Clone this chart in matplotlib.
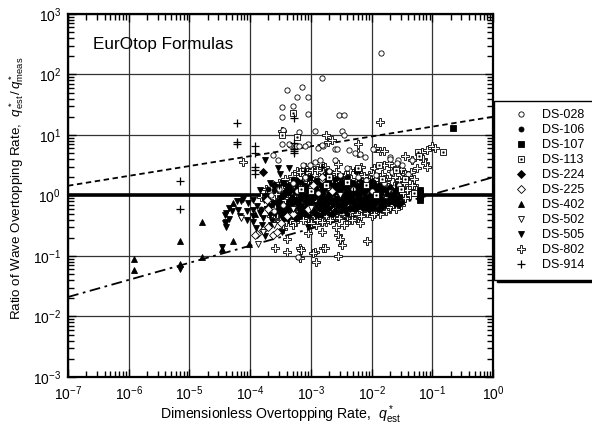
import matplotlib
matplotlib.use("Agg")
import matplotlib.pyplot as plt
from matplotlib.legend_handler import HandlerTuple
import numpy as np

plt.rcParams['font.family'] = ['Liberation Sans', 'DejaVu Sans']
plt.rcParams['mathtext.fontset'] = 'custom'
plt.rcParams['mathtext.rm'] = 'Liberation Sans'
plt.rcParams['mathtext.it'] = 'Liberation Sans:italic'

# ---- data (q*_est, q*_est / q*_meas) ----
ds028_q = [1.45e-2, 1.55e-3, 4.1e-4, 7.1e-4, 5.9e-4, 9.1e-4, 5.1e-4, 3.3e-4, 9.1e-4, 2.9e-3,
           3.5e-3, 3.3e-4, 3.5e-4, 6.3e-4, 1.17e-3, 3.2e-3, 3.5e-3, 3.3e-4, 4.5e-4, 9.1e-4,
           1.3e-3, 2.4e-4, 2.9e-4, 4.4e-4, 5.6e-4, 6.3e-4, 8.1e-4, 1.6e-3, 2.5e-3, 2.7e-3,
           4.2e-3, 2.5e-3, 7.8e-3, 1.07e-2, 2.0e-2, 2.75e-2, 3.2e-2, 1.5e-3, 5.4e-3, 6.5e-3,
           2.0e-2, 2.6e-2, 4.7e-2, 7.4e-4, 9.5e-4, 1.17e-3, 1.4e-3, 2e-3, 3e-3, 4e-3,
           6e-3, 8e-3, 1.2e-2, 1.6e-2, 2.2e-2, 1.5e-3, 8e-4, 5e-4, 3e-4, 2.5e-4,
           3.5e-4, 6e-4, 1e-3, 1.3e-3, 5e-3, 1e-2, 2.8e-2, 4e-2, 2.2e-4, 6.2e-4]
ds028_r = [230, 87, 56, 62, 42, 42, 30, 29, 22, 21,
           21, 20, 12, 11.2, 11.7, 11.7, 10, 7.2, 6.9, 7.2,
           6.0, 4.6, 3.9, 7.0, 6.6, 6.6, 6.5, 6.5, 5.8, 5.8,
           5.6, 3.9, 4.4, 5.8, 4.4, 3.9, 3.2, 6.8, 5.0, 4.9,
           4.0, 3.5, 3.8, 3.2, 3.2, 3.6, 3.9, 2.5, 2.2, 2.8,
           2.0, 1.8, 2.2, 1.6, 2.4, 1.8, 2.0, 1.6, 1.3, 0.55,
           0.7, 1.2, 1.4, 1.1, 1.3, 1.2, 1.5, 2.3, 1.0, 0.096]

ds106_q = [3e-4, 4e-4, 5e-4, 6e-4, 7e-4, 8e-4, 9e-4, 1e-3, 1.2e-3, 1.4e-3,
           1.6e-3, 1.8e-3, 2e-3, 2.3e-3, 2.6e-3, 3e-3, 3.4e-3, 3.8e-3, 4.3e-3, 4.8e-3,
           5.4e-3, 6e-3, 6.8e-3, 7.5e-3, 8.5e-3, 9.5e-3, 1.1e-2, 1.25e-2, 1.4e-2, 1.6e-2,
           1.8e-2, 2e-2, 2.3e-2, 2.6e-2, 2.9e-2, 3.2e-2, 2.2e-4, 1.8e-4, 2.5e-4, 1.4e-3,
           2.7e-4, 3.2e-4, 3.6e-4, 4.1e-4, 4.6e-4, 5.2e-4, 5.8e-4, 6.4e-4, 7.1e-4, 7.8e-4,
           8.5e-4, 9.3e-4, 1.03e-3, 1.12e-3, 1.23e-3, 1.34e-3, 1.46e-3, 1.58e-3, 1.72e-3, 1.87e-3,
           2.03e-3, 2.2e-3, 2.4e-3, 2.6e-3, 2.83e-3, 3.08e-3, 3.35e-3, 3.64e-3, 3.96e-3, 4.3e-3,
           4.7e-3, 5.1e-3, 5.6e-3, 6.1e-3, 6.6e-3, 7.2e-3, 7.8e-3, 8.5e-3, 9.3e-3, 1.01e-2,
           1.1e-2, 1.2e-2, 1.31e-2, 1.43e-2, 1.56e-2, 1.7e-2, 1.85e-2, 2.02e-2, 2.2e-2, 2.4e-2,
           3.5e-4, 5e-4, 7e-4, 9.5e-4, 1.25e-3, 1.6e-3, 2e-3, 2.5e-3, 3.2e-3, 4e-3,
           5e-3, 6.3e-3, 8e-3, 1e-2, 1.3e-2, 1.6e-2, 2e-2, 2.6e-2, 1.5e-4, 2e-4]
ds106_r = [0.8, 1.1, 0.6, 1.4, 0.9, 0.5, 1.2, 0.75, 1.0, 0.6,
           1.3, 0.8, 1.1, 0.5, 0.9, 1.25, 0.65, 1.0, 0.8, 1.3,
           0.7, 1.0, 0.85, 1.2, 0.7, 1.0, 0.85, 1.15, 0.95, 0.8,
           1.05, 0.9, 1.1, 0.85, 0.95, 0.78, 0.7, 1.0, 1.25, 1.6,
           0.55, 0.95, 0.42, 0.7, 1.3, 0.85, 0.48, 1.05, 0.62, 1.5,
           0.78, 0.45, 1.0, 0.58, 1.35, 0.82, 0.47, 1.1, 0.66, 0.95,
           0.5, 1.2, 0.72, 1.45, 0.88, 0.55, 1.05, 0.78, 0.5, 1.25,
           0.9, 0.6, 1.15, 0.78, 1.4, 0.62, 0.95, 1.3, 0.74, 1.05,
           0.62, 1.3, 0.82, 1.1, 0.68, 1.25, 0.75, 1.0, 0.82, 0.95,
           1.6, 1.9, 1.7, 2.0, 1.8, 2.1, 1.65, 1.9, 1.7, 2.0,
           1.6, 1.85, 1.6, 1.75, 1.5, 1.65, 1.4, 1.5, 0.6, 1.3]

ds107_q = [0.22, 6.2e-2, 6.2e-2, 6.2e-2, 6.2e-2, 1.95e-3, 5.8e-3, 1.5e-3, 3e-3, 2.5e-2,
           1e-2, 4e-3, 6e-4]
ds107_r = [13, 1.25, 1.1, 0.95, 0.85, 2.4, 2.6, 1.8, 2.1, 1.2,
           1.6, 1.0, 0.8]

ds113_q = [5.1e-4, 6e-4, 3.3e-4, 5.9e-2, 6e-2, 0.148, 1.3e-2, 2e-3, 4e-3, 8e-3,
           1.5e-2, 3e-2, 5e-2, 1e-3, 6e-3, 2.5e-2, 1.8e-3, 1.2e-2, 3.5e-2, 7e-4]
ds113_r = [23, 9.3, 10, 5.2, 4.5, 5.2, 3.2, 2.0, 1.7, 1.5,
           1.9, 1.3, 1.1, 1.2, 2.8, 2.6, 1.5, 1.0, 1.9, 1.3]

ds224_q = [1.6e-4, 2.5e-4, 3e-4, 3.5e-4, 4.5e-4, 5.5e-4, 6.5e-4, 7.5e-4, 9e-4, 1.1e-3,
           1.3e-3, 1.5e-3, 1.7e-3, 2e-3, 2.4e-3, 2.8e-3, 3.2e-3, 3.7e-3, 4.2e-3, 5e-3,
           5.8e-3, 6.5e-3, 7.5e-3, 9e-3, 1.05e-2, 1.2e-2, 1.5e-2, 1.9e-2, 2.4e-2, 2.8e-2,
           1.3e-2, 2.9e-4, 3.4e-4, 3.9e-4, 4.4e-4, 4.9e-4, 5.6e-4, 6.2e-4, 6.9e-4, 7.6e-4,
           8.3e-4, 9.1e-4, 1.0e-3, 1.1e-3, 1.2e-3, 1.32e-3, 1.45e-3, 1.6e-3, 1.75e-3, 1.92e-3,
           2.1e-3, 2.3e-3, 2.52e-3, 2.76e-3, 3.0e-3, 3.3e-3, 3.6e-3, 3.95e-3, 4.35e-3, 4.75e-3,
           5.2e-3, 5.7e-3, 6.3e-3, 6.9e-3, 7.6e-3, 8.4e-3, 9.2e-3, 1.0e-2, 1.12e-2, 1.25e-2,
           1.4e-2, 4.2e-4, 6e-4, 8e-4, 1.15e-3, 1.5e-3, 1.9e-3, 2.4e-3, 3e-3, 3.8e-3,
           4.6e-3, 5.8e-3, 7e-3, 9e-3, 1.15e-2, 1.5e-2]
ds224_r = [2.45, 1.5, 0.6, 1.0, 0.8, 1.2, 0.7, 1.05, 0.85, 1.3,
           0.7, 0.95, 0.55, 0.8, 1.15, 0.7, 0.95, 0.6, 1.1, 0.85,
           0.65, 1.1, 0.75, 0.95, 0.7, 0.9, 0.7, 0.8, 0.75, 0.72,
           0.6, 0.75, 0.5, 1.2, 0.62, 0.92, 0.42, 0.85, 1.25, 0.55,
           0.95, 0.65, 1.5, 0.9, 0.5, 1.1, 0.75, 1.3, 0.85, 0.62,
           1.05, 0.8, 0.56, 1.2, 0.9, 0.7, 1.35, 0.85, 0.62, 1.0,
           0.75, 1.3, 0.92, 0.68, 1.15, 0.85, 0.6, 0.98, 0.78, 1.2,
           0.88, 1.45, 1.75, 1.4, 1.6, 1.45, 1.9, 1.5, 1.55, 1.45,
           1.6, 1.45, 1.55, 1.35, 1.45, 1.3]

ds225_q = [1.6e-4, 2e-4, 2.4e-4, 2.8e-4, 1.3e-4, 3.2e-4, 4e-4, 5e-4, 1.1e-3, 1.5e-3,
           9e-4, 2.2e-3, 2e-4, 1.9e-4, 1.2e-4]
ds225_r = [0.27, 0.30, 0.22, 0.25, 0.23, 0.35, 0.45, 0.5, 1.5, 2.0,
           0.6, 1.2, 0.6, 0.85, 0.22]

ds402_q = [1.2e-6, 1.2e-6, 7e-6, 7e-6, 1.6e-5, 1.6e-5, 5.2e-5, 5.2e-5, 9.5e-5, 3.5e-5,
           1.2e-4, 2e-4]
ds402_r = [0.09, 0.058, 0.18, 0.075, 0.36, 0.095, 0.18, 0.75, 0.16, 0.13,
           0.5, 0.7]

ds502_q = [1.35e-4, 1.6e-4, 2.5e-4, 5e-4, 1e-3, 3e-3, 7e-5]
ds502_r = [0.16, 0.25, 0.32, 0.6, 0.63, 1.0, 0.42]

ds505_q = [3.8e-5, 4.4e-5, 3.8e-5, 6.3e-5, 6.8e-5, 7.6e-5, 9.3e-5, 1.12e-4, 1.12e-4, 1.12e-4,
           1.26e-4, 1.45e-4, 1.55e-4, 1.74e-4, 2.1e-4, 2.2e-4, 2.4e-4, 2.9e-4, 3.1e-4, 3.3e-4,
           4e-4, 3.5e-4, 4.5e-4, 4.8e-4, 5.8e-4, 6.6e-4, 9.1e-4, 2.1e-4, 1.45e-4, 4e-5,
           4e-5, 4e-5, 7e-6, 3.5e-5, 6e-5, 7e-5, 9e-5, 5e-5, 4.5e-5, 1.74e-4,
           4.3e-4, 1.2e-3, 2e-3, 1.5e-3, 8e-4, 1.3e-4, 1.6e-4, 1.9e-4, 2.3e-4, 2.6e-4,
           2.8e-4, 3.2e-4, 3.6e-4, 4.2e-4, 5e-4, 5.5e-4, 6.2e-4, 7e-4, 1e-3, 1.3e-3,
           1.7e-3, 2.2e-3, 1.1e-4, 9e-5, 1.7e-4]
ds505_r = [0.48, 0.41, 0.35, 0.58, 0.45, 0.89, 0.74, 0.85, 0.58, 0.37,
           0.29, 0.51, 0.32, 0.21, 0.48, 0.32, 0.74, 2.8, 2.3, 0.25,
           0.51, 1.6, 1.1, 0.66, 0.85, 0.45, 0.30, 1.6, 1.23, 0.51,
           0.37, 0.30, 0.06, 0.14, 0.82, 0.8, 0.4, 0.55, 0.62, 3.9,
           2.8, 0.7, 0.9, 0.55, 0.75, 0.68, 0.42, 0.6, 0.38, 0.5,
           0.7, 0.45, 0.58, 0.4, 0.55, 0.8, 0.6, 0.5, 0.55, 0.45,
           0.62, 0.7, 0.46, 0.55, 0.85]

ds802_q = [7.6e-5, 3.3e-4, 1.8e-3, 1.95e-3, 1.35e-2, 2.2e-3, 6e-3, 1.15e-2, 1.4e-2, 1.6e-2,
           3.5e-2, 6.8e-2, 7.1e-2, 9.8e-2, 0.11, 7.6e-2, 8.1e-2, 1.4e-3, 1.02e-3, 1.6e-2,
           2.6e-2, 3e-2, 3.5e-2, 6e-3, 4.6e-2, 8.1e-2,
           2.6e-4, 4e-4, 6.6e-4, 6.6e-4, 1.17e-3, 1.23e-3, 1.6e-3, 7e-4, 1.1e-3, 1.7e-3,
           2.8e-3, 2.8e-3, 3e-3, 3.2e-3, 1.5e-3, 6.5e-3, 8.3e-3, 4e-4, 9.1e-4, 3.5e-4,
           5e-4,
           2.5e-4, 3e-4, 3.5e-4, 4e-4, 4.5e-4, 5e-4, 5.5e-4, 6e-4, 6.5e-4, 7e-4,
           7.5e-4, 8e-4, 8.5e-4, 9e-4, 9.5e-4, 1e-3, 1.05e-3, 1.1e-3, 1.15e-3, 1.2e-3,
           1.3e-3, 1.35e-3, 1.4e-3, 1.5e-3, 1.6e-3, 1.7e-3, 1.8e-3, 1.9e-3, 2e-3, 2.1e-3,
           2.2e-3, 2.3e-3, 2.4e-3, 2.5e-3, 2.6e-3, 2.7e-3, 2.8e-3, 2.9e-3, 3e-3, 3.2e-3,
           3.4e-3, 3.6e-3, 3.8e-3, 4e-3, 4.2e-3, 4.4e-3, 4.6e-3, 4.8e-3, 5e-3, 5.3e-3,
           5.6e-3, 5.9e-3, 6.2e-3, 6.5e-3, 6.8e-3, 7.2e-3, 7.6e-3, 8e-3, 8.5e-3, 9e-3,
           9.5e-3, 1e-2, 1.05e-2, 1.1e-2, 1.2e-2, 1.3e-2, 1.4e-2, 1.5e-2, 1.6e-2, 1.7e-2,
           1.8e-2, 1.9e-2, 2e-2, 2.2e-2, 2.4e-2, 2.6e-2, 2.8e-2, 3e-2, 3.3e-2, 3.6e-2,
           4e-2, 4.4e-2, 5e-2, 5.5e-2, 1.5e-4, 2e-4, 1.8e-4, 2.2e-4, 6e-4, 8e-4,
           1.2e-3, 1.8e-3, 2.6e-3, 3.5e-3, 5.5e-3, 1e-2, 1.4e-2, 2e-2, 2.5e-2, 3e-2,
           2.5e-4, 2.6e-4, 2.7e-4, 2.8e-4, 2.9e-4, 3.0e-4, 3.1e-4, 3.2e-4, 3.3e-4, 3.4e-4,
           3.5e-4, 3.6e-4, 3.7e-4, 3.8e-4, 3.9e-4, 4.0e-4, 4.1e-4, 4.2e-4, 4.3e-4, 4.4e-4,
           4.5e-4, 4.6e-4, 4.7e-4, 4.8e-4, 4.9e-4, 5.0e-4, 5.1e-4, 5.2e-4, 5.3e-4, 5.4e-4,
           5.5e-4, 5.7e-4, 5.8e-4, 5.9e-4, 6.0e-4, 6.2e-4, 6.3e-4, 6.5e-4, 6.6e-4, 6.8e-4,
           6.9e-4, 7.0e-4, 7.2e-4, 7.3e-4, 7.5e-4, 7.7e-4, 7.8e-4, 8.0e-4, 8.2e-4, 8.4e-4,
           8.6e-4, 8.8e-4, 9.0e-4, 9.2e-4, 9.4e-4, 9.6e-4, 9.8e-4, 1.0e-3, 1.02e-3, 1.04e-3,
           1.06e-3, 1.08e-3, 1.1e-3, 1.13e-3, 1.16e-3, 1.19e-3, 1.22e-3, 1.25e-3, 1.28e-3, 1.31e-3,
           1.34e-3, 1.37e-3, 1.4e-3, 1.44e-3, 1.48e-3, 1.52e-3, 1.56e-3, 1.6e-3, 1.64e-3, 1.68e-3,
           1.72e-3, 1.76e-3, 1.8e-3, 1.85e-3, 1.9e-3, 1.95e-3, 2.0e-3, 2.05e-3, 2.1e-3, 2.15e-3,
           2.2e-3, 2.25e-3, 2.3e-3, 2.36e-3, 2.42e-3, 2.48e-3, 2.55e-3, 2.62e-3, 2.7e-3, 2.78e-3,
           2.86e-3, 2.94e-3, 3.02e-3, 3.1e-3, 3.2e-3, 3.3e-3, 3.4e-3, 3.5e-3, 3.6e-3, 3.7e-3,
           3.8e-3, 3.9e-3, 4.0e-3, 4.1e-3, 4.2e-3, 4.3e-3, 4.4e-3, 4.5e-3, 4.6e-3, 4.7e-3,
           4.8e-3, 4.95e-3, 5.1e-3, 5.25e-3, 5.4e-3, 5.55e-3, 5.7e-3, 5.85e-3, 6.0e-3, 6.2e-3,
           6.4e-3, 6.6e-3, 6.8e-3, 7.0e-3, 7.2e-3, 7.4e-3, 7.6e-3, 7.8e-3, 8.0e-3, 8.3e-3,
           8.6e-3, 8.9e-3, 9.2e-3, 9.5e-3, 9.8e-3, 1.01e-2, 1.04e-2, 1.07e-2, 1.1e-2, 1.13e-2,
           1.16e-2, 1.2e-2, 1.24e-2, 1.28e-2, 1.32e-2, 1.36e-2, 1.4e-2, 1.45e-2, 1.5e-2, 1.55e-2,
           1.6e-2, 1.65e-2, 1.7e-2, 1.76e-2, 1.82e-2, 1.88e-2, 1.94e-2, 2.0e-2, 2.07e-2, 2.14e-2,
           2.21e-2, 2.28e-2, 2.36e-2, 2.44e-2, 2.52e-2, 2.6e-2, 2.7e-2, 2.8e-2, 2.9e-2, 3.0e-2,
           3.1e-2, 3.2e-2, 3.3e-2, 3.45e-2, 3.6e-2, 3.8e-2, 4.0e-2, 4.3e-2, 4.6e-2, 5.0e-2]
ds802_r = [3.6, 11.5, 10, 7.8, 16.6, 8.3, 7.1, 6.0, 5.5, 5.5,
           4.5, 5.3, 4.0, 6.5, 6.0, 3.4, 3.0, 3.4, 3.0, 3.2,
           3.0, 2.6, 2.3, 5.1, 3.9, 5.6,
           0.135, 0.117, 0.135, 0.091, 0.117, 0.081, 0.135, 0.126, 0.11, 0.135,
           0.1, 0.22, 0.19, 0.15, 0.25, 0.35, 0.18, 0.19, 0.24, 0.28,
           0.32,
           0.9, 1.2, 0.7, 1.5, 0.55, 1.0, 1.8, 0.75, 0.45, 1.3,
           2.2, 0.9, 0.6, 1.6, 0.38, 1.1, 2.6, 0.7, 0.5, 1.4,
           0.85, 2.0, 0.42, 1.2, 0.65, 3.0, 0.9, 1.7, 0.55, 1.3,
           2.3, 0.75, 0.45, 1.0, 1.9, 0.62, 3.3, 1.4, 0.8, 0.5,
           1.15, 2.0, 0.7, 1.5, 0.4, 2.6, 0.95, 0.6, 1.7, 1.1,
           0.8, 2.4, 0.55, 1.3, 3.0, 0.9, 1.9, 0.65, 1.2, 2.2,
           0.85, 1.5, 0.6, 2.8, 1.05, 1.7, 0.75, 2.3, 1.2, 0.9,
           1.9, 3.4, 1.35, 0.95, 2.0, 1.15, 1.6, 2.7, 1.3, 1.9,
           1.05, 2.4, 1.5, 2.9, 0.95, 0.65, 1.3, 0.45, 2.5, 3.0,
           0.33, 0.36, 0.3, 0.33, 0.42, 0.45, 0.5, 0.6, 0.7, 0.8,
           0.42, 0.62, 1.05, 0.5, 0.8, 1.6, 0.38, 0.68, 0.95, 1.3,
           0.45, 0.58, 0.85, 1.9, 0.36, 0.72, 1.12, 0.52, 0.9, 1.45,
           0.4, 0.64, 0.78, 1.05, 2.1, 0.47, 0.56, 1.25, 0.7, 0.95,
           0.37, 1.6, 0.6, 0.82, 1.1, 0.44, 0.68, 2.4, 0.9, 1.35,
           0.52, 0.76, 1.0, 0.39, 1.7, 0.6, 0.85, 1.2, 0.48, 0.7,
           0.95, 1.5, 0.42, 0.62, 2.0, 0.8, 1.08, 0.55, 0.35, 1.3,
           0.72, 0.9, 1.75, 0.46, 0.6, 1.15, 0.82, 0.4, 2.6, 0.66,
           1.0, 1.45, 0.52, 0.76, 0.95, 0.37, 1.25, 0.6, 2.1, 0.84,
           1.1, 0.45, 0.7, 1.6, 0.9, 0.55, 1.3, 0.4, 0.78, 1.0,
           1.9, 0.62, 0.86, 1.2, 0.48, 0.7, 2.4, 0.95, 0.58, 1.4,
           0.42, 0.8, 1.08, 1.75, 0.65, 0.9, 0.5, 1.25, 2.2, 0.74,
           1.0, 0.45, 0.6, 1.5, 0.85, 1.15, 0.53, 0.7, 1.9, 0.95,
           0.4, 1.3, 0.64, 0.82, 1.05, 2.6, 0.5, 0.72, 1.6, 0.9,
           1.2, 0.58, 0.45, 0.78, 1.0, 2.1, 0.66, 1.4, 0.86, 0.52,
           1.1, 0.7, 1.7, 0.95, 0.6, 1.3, 0.8, 2.3, 0.5, 1.05,
           0.68, 0.9, 1.5, 0.58, 1.2, 0.78, 2.0, 0.98, 0.62, 1.35,
           0.85, 1.1, 0.55, 1.7, 0.72, 0.95, 1.25, 0.64, 2.5, 0.82,
           1.05, 0.7, 1.45, 0.9, 0.6, 1.2, 0.78, 1.8, 0.95, 0.7,
           1.3, 0.85, 1.1, 1.6, 0.9, 1.25, 2.2, 1.0, 1.5, 1.9]

ds914_q = [6e-5, 6e-5, 6e-5, 7e-6, 7e-6, 1.2e-4, 1.2e-4, 1.2e-4, 1.2e-4, 5.2e-4,
           5.2e-4, 5.2e-4, 5.2e-4, 5.2e-4, 1.2e-4, 3e-4, 1e-3, 2e-3, 5e-3, 8e-4,
           1.5e-3]
ds914_r = [16, 7.2, 7.6, 1.75, 0.6, 6.6, 5.0, 2.6, 2.3, 19,
           7.5, 5.8, 5.0, 5.4, 3.0, 1.5, 1.8, 0.8, 1.2, 2.5,
           3.0]

# reference lines
line_q = [1e-7, 1.0]
upper_r = [1.45, 20.0]
lower_r = [0.021, 2.0]

fig = plt.figure(figsize=(5.92, 4.28), dpi=100)
ax = fig.add_axes([0.1149, 0.1192, 0.7179, 0.8481])

ax.set_xscale('log')
ax.set_yscale('log')
ax.set_xlim(1e-7, 1)
ax.set_ylim(1e-3, 1e3)
ax.grid(True, which='major', color='#333333', lw=0.9)
ax.set_axisbelow(True)

ax.axhline(1.0, color='black', lw=2.6, zorder=2)
ax.plot(line_q, upper_r, color='black', ls=(0, (3, 2)), lw=1.3, zorder=2)
ax.plot(line_q, lower_r, color='black', ls=(0, (6, 2.5, 1.5, 2.5)), lw=1.3, zorder=2)

mew = 0.6
# open crosses sit underneath the filled symbols, as in the dense cloud of the original
h802, = ax.plot(ds802_q, ds802_r, 'P', ms=5.2, mfc='white', mec='black', mew=mew, ls='none', zorder=3)
h106, = ax.plot(ds106_q, ds106_r, 'o', ms=3.6, mfc='black', mec='black', mew=mew, ls='none', zorder=4)
h224, = ax.plot(ds224_q, ds224_r, 'D', ms=3.8, mfc='black', mec='black', mew=mew, ls='none', zorder=4)
h505, = ax.plot(ds505_q, ds505_r, 'v', ms=4.2, mfc='black', mec='black', mew=mew, ls='none', zorder=4)
h107, = ax.plot(ds107_q, ds107_r, 's', ms=4.0, mfc='black', mec='black', mew=mew, ls='none', zorder=4)
h402, = ax.plot(ds402_q, ds402_r, '^', ms=4.0, mfc='black', mec='black', mew=mew, ls='none', zorder=4)
h028, = ax.plot(ds028_q, ds028_r, 'o', ms=3.8, mfc='white', mec='black', mew=mew, ls='none', zorder=5)
h113a, = ax.plot(ds113_q, ds113_r, 's', ms=3.8, mfc='white', mec='black', mew=mew, ls='none', zorder=5)
h113b, = ax.plot(ds113_q, ds113_r, 's', ms=1.0, mfc='black', mec='black', mew=0.4, ls='none', zorder=5)
h225, = ax.plot(ds225_q, ds225_r, 'D', ms=3.6, mfc='white', mec='black', mew=mew, ls='none', zorder=5)
h502, = ax.plot(ds502_q, ds502_r, 'v', ms=4.0, mfc='white', mec='black', mew=mew, ls='none', zorder=5)
h914, = ax.plot(ds914_q, ds914_r, '+', ms=6.0, mec='black', mew=0.9, ls='none', zorder=5)

for s in ax.spines.values():
    s.set_linewidth(1.6)
ax.tick_params(which='both', direction='in', top=True, right=True, width=1.0,
               labelsize=10, colors='black')
ax.tick_params(which='major', length=6, pad=5)
ax.tick_params(which='minor', length=4)
ax.xaxis.set_major_locator(matplotlib.ticker.LogLocator(base=10, numticks=20))
ax.yaxis.set_major_locator(matplotlib.ticker.LogLocator(base=10, numticks=20))
ax.xaxis.set_minor_locator(matplotlib.ticker.LogLocator(base=10, subs=np.arange(2, 10), numticks=20))
ax.yaxis.set_minor_locator(matplotlib.ticker.LogLocator(base=10, subs=np.arange(2, 10), numticks=20))
ax.xaxis.set_minor_formatter(matplotlib.ticker.NullFormatter())
ax.yaxis.set_minor_formatter(matplotlib.ticker.NullFormatter())

ax.set_xlabel(r'Dimensionless Overtopping Rate,  $q^*_{\mathrm{est}}$', fontsize=10.2)
ax.set_ylabel(r'Ratio of Wave Overtopping Rate,  $q^*_{\mathrm{est}}\,/\,q^*_{\mathrm{meas}}$',
              fontsize=9.6)
ax.xaxis.set_label_coords(0.5, -0.072)
ax.yaxis.set_label_coords(-0.1, 0.52)

ax.text(0.059, 0.915, 'EurOtop Formulas', transform=ax.transAxes, fontsize=12.3,
        ha='left', va='center')

handles = [h028, h106, h107, (h113a, h113b), h224, h225, h402, h502, h505, h802, h914]
labels = ['DS-028', 'DS-106', 'DS-107', 'DS-113', 'DS-224', 'DS-225',
          'DS-402', 'DS-502', 'DS-505', 'DS-802', 'DS-914']
leg = ax.legend(handles, labels, loc='upper left', bbox_to_anchor=(0.834, 0.764),
                bbox_transform=fig.transFigure, borderaxespad=0, fontsize=9,
                frameon=True, fancybox=False, edgecolor='black', framealpha=1,
                borderpad=0.66, handlelength=3.0, handletextpad=0.2, labelspacing=0.24,
                handler_map={tuple: HandlerTuple(ndivide=1, pad=0)},
                shadow={'color': 'black', 'alpha': 1})
leg.get_frame().set_linewidth(1.0)
leg.set_zorder(10)

fig.savefig('out.png', dpi=100)
